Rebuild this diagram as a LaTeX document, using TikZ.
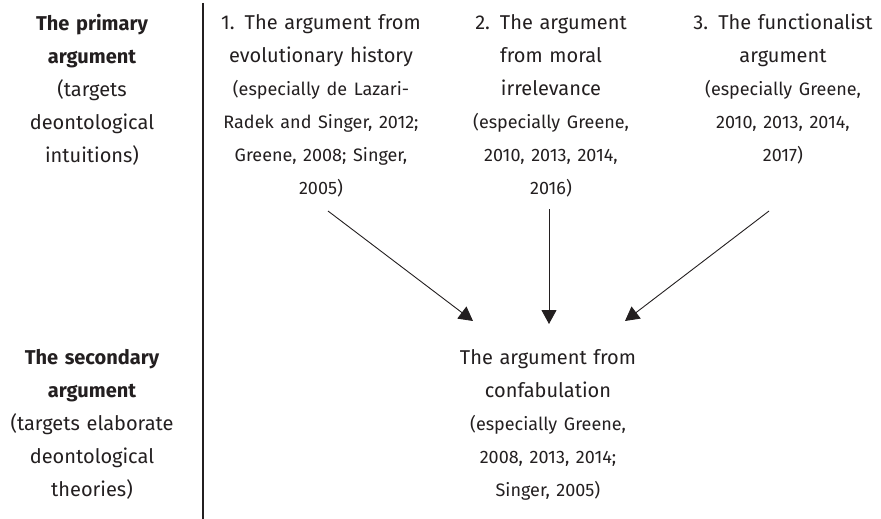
\documentclass[tikz,border=0pt]{standalone}
\usepackage{fontspec}
\setmainfont{Fira Sans}
\usetikzlibrary{arrows.meta}
\definecolor{inkgray}{RGB}{35,31,32}
\newcommand{\mainsize}{\fontsize{20}{33}\selectfont}
\newcommand{\citesize}{\fontsize{18}{33}\selectfont}

\begin{document}
\begin{tikzpicture}[x=1pt,y=-1pt]
\tikzset{
  headnode/.style={anchor=north,align=center,text width=200pt,inner sep=0pt,font=\mainsize,text=inkgray},
  argnode/.style={anchor=north,align=center,text width=240pt,inner sep=0pt,font=\mainsize,text=inkgray},
  directed/.style={-{Triangle[length=14pt,width=15pt]},line width=0.9pt,draw=inkgray},
  divider/.style={line width=1.6pt,draw=inkgray}
}
\useasboundingbox (0,0) rectangle (881,519);
% row heads
\node[headnode] (n_primary) at (92,14) {{\bfseries The primary\\argument}\\(targets\\deontological\\intuitions)};
\node[headnode] (n_secondary) at (92,349) {{\bfseries The secondary\\argument}\\(targets elaborate\\deontological\\theories)};
\coordinate (d_top) at (203,3);
\coordinate (d_bot) at (203,519);
\draw[divider] (d_top) -- (d_bot);
% the three arguments
\node[argnode] (n_evo) at (321,14) {1. The argument from\\evolutionary history\\\citesize (especially de Lazari-\\Radek and Singer, 2012;\\Greene, 2008; Singer,\\2005)};
\node[argnode] (n_moral) at (551,14) {2. The argument\\from moral\\irrelevance\\\citesize (especially Greene,\\2010, 2013, 2014,\\2016)};
\node[argnode] (n_func) at (783,14) {3. The functionalist\\argument\\\citesize (especially Greene,\\2010, 2013, 2014,\\2017)};
\node[argnode] (n_confab) at (548,349) {The argument from\\confabulation\\\citesize (especially Greene,\\2008, 2013, 2014;\\Singer, 2005)};
% arrows
\coordinate (s_evo) at (328,211);
\coordinate (e_evo) at (473,321);
\coordinate (s_moral) at (549,209);
\coordinate (e_moral) at (549,324);
\coordinate (s_func) at (769,211);
\coordinate (e_func) at (625,321);
\draw[directed] (s_evo) -- (e_evo);
\draw[directed] (s_moral) -- (e_moral);
\draw[directed] (s_func) -- (e_func);
\end{tikzpicture}
\end{document}
